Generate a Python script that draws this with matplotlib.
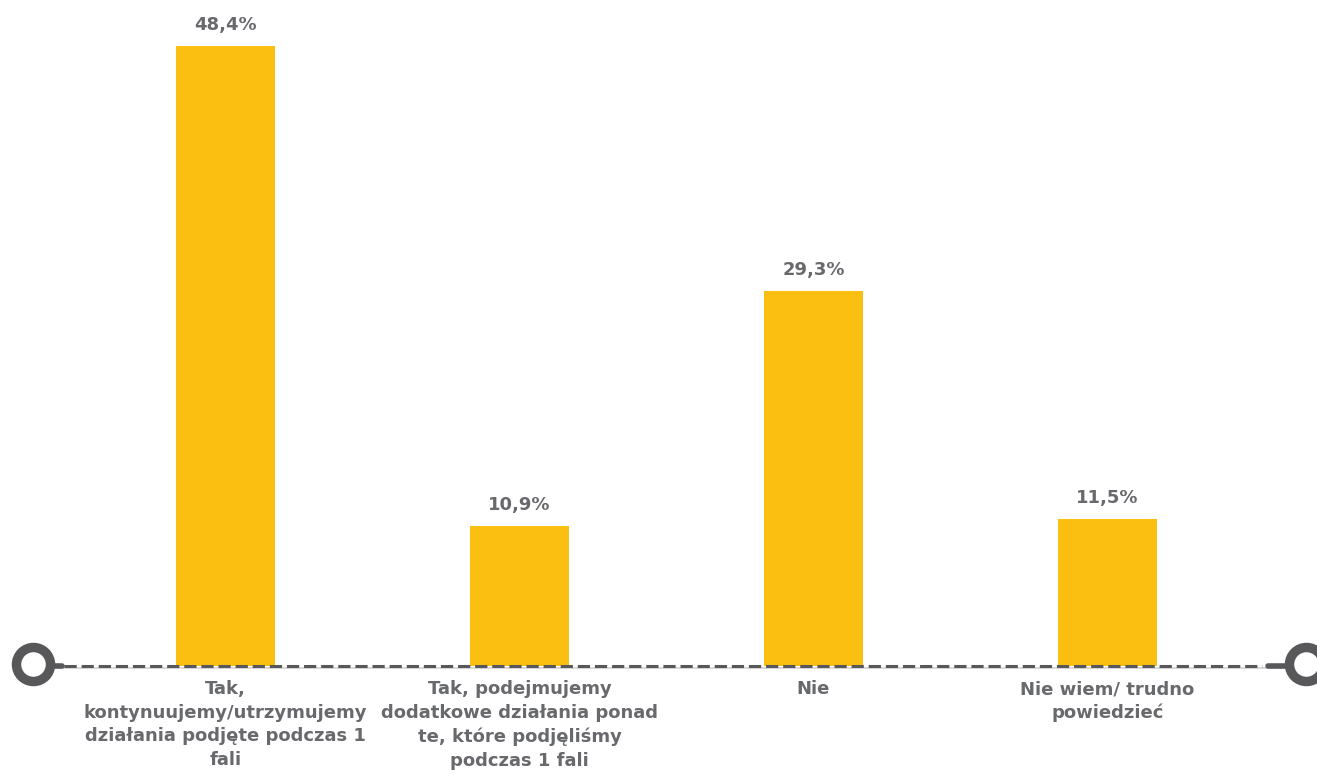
import matplotlib
matplotlib.use("Agg")
import matplotlib.pyplot as plt

categories = [
    "Tak,\nkontynuujemy/utrzymujemy\ndziałania podjęte podczas 1\nfali",
    "Tak, podejmujemy\ndodatkowe działania ponad\nte, które podjęliśmy\npodczas 1 fali",
    "Nie",
    "Nie wiem/ trudno\npowiedzieć",
]
values = [48.4, 10.9, 29.3, 11.5]
value_labels = ["48,4%", "10,9%", "29,3%", "11,5%"]

bar_color = "#fbbf12"
text_color = "#68696c"
line_color = "#58585a"

fig = plt.figure(figsize=(13.17, 7.81), dpi=100)
ax = fig.add_axes([0, 0, 1, 1])
ax.set_axis_off()

px = 294.0  # pixels per category step
py = 12.81  # pixels per percentage point
ax.set_xlim(-225.5 / px, (1317 - 225.5) / px)
ax.set_ylim(-115 / py, 666 / py)

x = list(range(len(values)))
ax.bar(x, values, width=99 / px, color=bar_color, zorder=2)

for xi, v, lab in zip(x, values, value_labels):
    ax.text(xi, v + 21 / py, lab, ha="center", va="center",
            fontsize=13, fontweight="bold", color=text_color)

for xi, cat in zip(x, categories):
    ax.text(xi, -14 / py, cat, ha="center", va="top", fontsize=13,
            fontweight="bold", color=text_color, linespacing=1.4)

# baseline: thin grey line with dark dashes on top, rings at both ends
xl = (33 - 225.5) / px
xr = (1306 - 225.5) / px
ax.plot([xl, xr], [-1.5 / py, -1.5 / py], color="#d3d3d3", lw=1.2, zorder=1)
ax.plot([(64 - 225.5) / px, (1262 - 225.5) / px], [0, 0], color=line_color,
        lw=2.2, dashes=(4, 1.6), zorder=3)
ax.plot([xl, (62 - 225.5) / px], [0, 0], color=line_color, lw=4,
        solid_capstyle="round", zorder=3)
ax.plot([(1268 - 225.5) / px, xr], [0, 0], color=line_color, lw=4,
        solid_capstyle="round", zorder=3)
ax.plot([xl, xr], [2 / py, 2 / py], ls="none", marker="o", ms=24.5,
        mfc="white", mec=line_color, mew=6.8, zorder=4, clip_on=False)

fig.savefig("out.png", dpi=100)
